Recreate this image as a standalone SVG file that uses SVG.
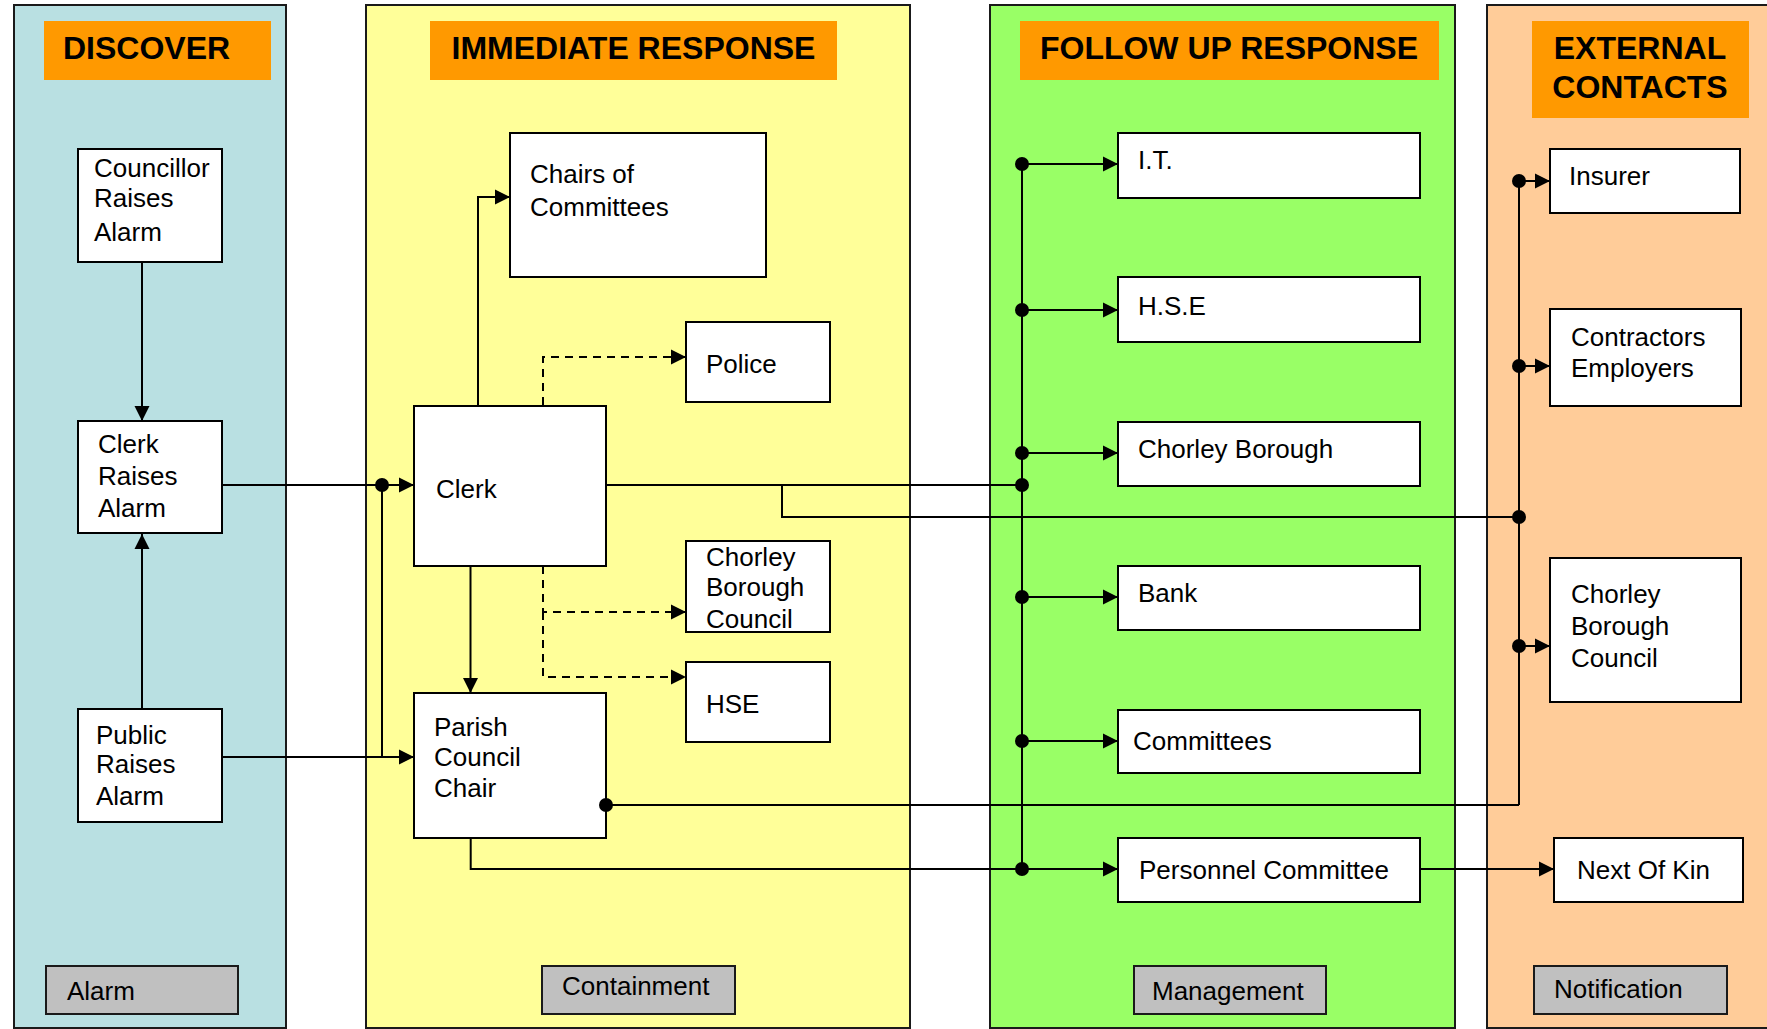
<svg xmlns="http://www.w3.org/2000/svg" width="1767" height="1029" viewBox="0 0 1767 1029">
<defs>
<style>
.lane{stroke:#1a1a1a;stroke-width:2}
.hdr{fill:#FF9900}
.ht{font-family:"Liberation Sans",Arial,sans-serif;font-weight:bold;font-size:32px;fill:#000}
.box{fill:#fff;stroke:#000;stroke-width:2}
.lbl{fill:#C0C0C0;stroke:#1a1a1a;stroke-width:2}
.t{font-family:"Liberation Sans",Arial,sans-serif;font-size:26px;fill:#000}
.c{fill:none;stroke:#000;stroke-width:2}
.d{fill:none;stroke:#000;stroke-width:2;stroke-dasharray:8,6}
.dot{fill:#000}
</style>
<marker id="ah" markerUnits="userSpaceOnUse" markerWidth="17" markerHeight="17" refX="16" refY="8.5" orient="auto">
<path d="M1,1 L16,8.5 L1,16 z" fill="#000"/>
</marker>
</defs>
<rect width="1767" height="1029" fill="#fff"/>

<g id="lanes">
<rect class="lane" x="14" y="5" width="272" height="1023" fill="#B9E0E2"/>
<rect class="lane" x="366" y="5" width="544" height="1023" fill="#FFFF99"/>
<rect class="lane" x="990" y="5" width="465" height="1023" fill="#99FF66"/>
<rect class="lane" x="1487" y="5" width="300" height="1023" fill="#FFCC99"/>
</g>

<g id="headers">
<rect class="hdr" x="44" y="21" width="227" height="59"/>
<text class="ht" x="63" y="59">DISCOVER</text>
<rect class="hdr" x="430" y="21" width="407" height="59"/>
<text class="ht" x="633.5" y="59" text-anchor="middle">IMMEDIATE RESPONSE</text>
<rect class="hdr" x="1020" y="21" width="419" height="59"/>
<text class="ht" x="1229" y="59" text-anchor="middle">FOLLOW UP RESPONSE</text>
<rect class="hdr" x="1532" y="21" width="217" height="97"/>
<text class="ht" x="1640" y="59" text-anchor="middle">EXTERNAL</text>
<text class="ht" x="1640" y="98" text-anchor="middle">CONTACTS</text>
</g>

<g id="councillor-raises-alarm">
<rect class="box" x="78" y="149" width="144" height="113"/>
<text class="t" x="94" y="177">Councillor</text>
<text class="t" x="94" y="207">Raises</text>
<text class="t" x="94" y="241">Alarm</text>
</g>
<g id="clerk-raises-alarm">
<rect class="box" x="78" y="421" width="144" height="112"/>
<text class="t" x="98" y="453">Clerk</text>
<text class="t" x="98" y="485">Raises</text>
<text class="t" x="98" y="517">Alarm</text>
</g>
<g id="public-raises-alarm">
<rect class="box" x="78" y="709" width="144" height="113"/>
<text class="t" x="96" y="744">Public</text>
<text class="t" x="96" y="773">Raises</text>
<text class="t" x="96" y="805">Alarm</text>
</g>
<g id="clerk">
<rect class="box" x="414" y="406" width="192" height="160"/>
<text class="t" x="436" y="498">Clerk</text>
</g>
<g id="parish-council-chair">
<rect class="box" x="414" y="693" width="192" height="145"/>
<text class="t" x="434" y="736">Parish</text>
<text class="t" x="434" y="766">Council</text>
<text class="t" x="434" y="797">Chair</text>
</g>
<g id="chairs-of-committees">
<rect class="box" x="510" y="133" width="256" height="144"/>
<text class="t" x="530" y="183">Chairs of</text>
<text class="t" x="530" y="216">Committees</text>
</g>
<g id="police">
<rect class="box" x="686" y="322" width="144" height="80"/>
<text class="t" x="706" y="373">Police</text>
</g>
<g id="chorley-borough-council-ir">
<rect class="box" x="686" y="541" width="144" height="91"/>
<text class="t" x="706" y="566">Chorley</text>
<text class="t" x="706" y="596">Borough</text>
<text class="t" x="706" y="628">Council</text>
</g>
<g id="hse">
<rect class="box" x="686" y="662" width="144" height="80"/>
<text class="t" x="706" y="713">HSE</text>
</g>

<g id="it">
<rect class="box" x="1118" y="133" width="302" height="65"/>
<text class="t" x="1138" y="169">I.T.</text>
</g>
<g id="h-s-e">
<rect class="box" x="1118" y="277" width="302" height="65"/>
<text class="t" x="1138" y="315">H.S.E</text>
</g>
<g id="chorley-borough">
<rect class="box" x="1118" y="422" width="302" height="64"/>
<text class="t" x="1138" y="458">Chorley Borough</text>
</g>
<g id="bank">
<rect class="box" x="1118" y="566" width="302" height="64"/>
<text class="t" x="1138" y="602">Bank</text>
</g>
<g id="committees">
<rect class="box" x="1118" y="710" width="302" height="63"/>
<text class="t" x="1133" y="750">Committees</text>
</g>
<g id="personnel-committee">
<rect class="box" x="1118" y="838" width="302" height="64"/>
<text class="t" x="1139" y="879">Personnel Committee</text>
</g>

<g id="insurer">
<rect class="box" x="1550" y="149" width="190" height="64"/>
<text class="t" x="1569" y="185">Insurer</text>
</g>
<g id="contractors-employers">
<rect class="box" x="1550" y="309" width="191" height="97"/>
<text class="t" x="1571" y="346">Contractors</text>
<text class="t" x="1571" y="377">Employers</text>
</g>
<g id="chorley-borough-council-ext">
<rect class="box" x="1550" y="558" width="191" height="144"/>
<text class="t" x="1571" y="603">Chorley</text>
<text class="t" x="1571" y="635">Borough</text>
<text class="t" x="1571" y="667">Council</text>
</g>
<g id="next-of-kin">
<rect class="box" x="1554" y="838" width="189" height="64"/>
<text class="t" x="1577" y="879">Next Of Kin</text>
</g>

<g id="stage-labels">
<rect class="lbl" x="46" y="966" width="192" height="48"/>
<text class="t" x="67" y="1000">Alarm</text>
<rect class="lbl" x="542" y="966" width="193" height="48"/>
<text class="t" x="562" y="995">Containment</text>
<rect class="lbl" x="1134" y="966" width="192" height="48"/>
<text class="t" x="1152" y="1000">Management</text>
<rect class="lbl" x="1534" y="966" width="193" height="48"/>
<text class="t" x="1554" y="998">Notification</text>
</g>

<g id="connectors">
<line class="c" x1="142" y1="262" x2="142" y2="421" marker-end="url(#ah)"/>
<line class="c" x1="142" y1="709" x2="142" y2="534" marker-end="url(#ah)"/>
<line class="c" x1="222" y1="485" x2="414" y2="485" marker-end="url(#ah)"/>
<line class="c" x1="222" y1="757" x2="414" y2="757" marker-end="url(#ah)"/>
<line class="c" x1="382" y1="485" x2="382" y2="757"/>
<polyline class="c" points="478,406 478,197 510,197" marker-end="url(#ah)"/>
<polyline class="d" points="543,405 543,357 686,357" marker-end="url(#ah)"/>
<polyline class="d" points="543,566 543,612 686,612" marker-end="url(#ah)"/>
<polyline class="d" points="543,612 543,677 686,677" marker-end="url(#ah)"/>
<line class="c" x1="470.5" y1="566" x2="470.5" y2="693" marker-end="url(#ah)"/>
<line class="c" x1="606" y1="485" x2="1022" y2="485"/>
<polyline class="c" points="782,485 782,517 1519,517"/>
<line class="c" x1="1022" y1="164" x2="1022" y2="869"/>
<line class="c" x1="1022" y1="164" x2="1118" y2="164" marker-end="url(#ah)"/>
<line class="c" x1="1022" y1="310" x2="1118" y2="310" marker-end="url(#ah)"/>
<line class="c" x1="1022" y1="453" x2="1118" y2="453" marker-end="url(#ah)"/>
<line class="c" x1="1022" y1="597" x2="1118" y2="597" marker-end="url(#ah)"/>
<line class="c" x1="1022" y1="741" x2="1118" y2="741" marker-end="url(#ah)"/>
<polyline class="c" points="470.7,838 470.7,869 1118,869" marker-end="url(#ah)"/>
<line class="c" x1="606" y1="805" x2="1519" y2="805"/>
<line class="c" x1="1519" y1="181" x2="1519" y2="805"/>
<line class="c" x1="1519" y1="181" x2="1550" y2="181" marker-end="url(#ah)"/>
<line class="c" x1="1519" y1="366" x2="1550" y2="366" marker-end="url(#ah)"/>
<line class="c" x1="1519" y1="646" x2="1550" y2="646" marker-end="url(#ah)"/>
<line class="c" x1="1420" y1="869" x2="1554" y2="869" marker-end="url(#ah)"/>
<circle class="dot" cx="382" cy="485" r="7"/>
<circle class="dot" cx="1022" cy="164" r="7"/>
<circle class="dot" cx="1022" cy="310" r="7"/>
<circle class="dot" cx="1022" cy="453" r="7"/>
<circle class="dot" cx="1022" cy="485" r="7"/>
<circle class="dot" cx="1022" cy="597" r="7"/>
<circle class="dot" cx="1022" cy="741" r="7"/>
<circle class="dot" cx="1022" cy="869" r="7"/>
<circle class="dot" cx="606" cy="805" r="7"/>
<circle class="dot" cx="1519" cy="181" r="7"/>
<circle class="dot" cx="1519" cy="366" r="7"/>
<circle class="dot" cx="1519" cy="517" r="7"/>
<circle class="dot" cx="1519" cy="646" r="7"/>
</g>
</svg>
